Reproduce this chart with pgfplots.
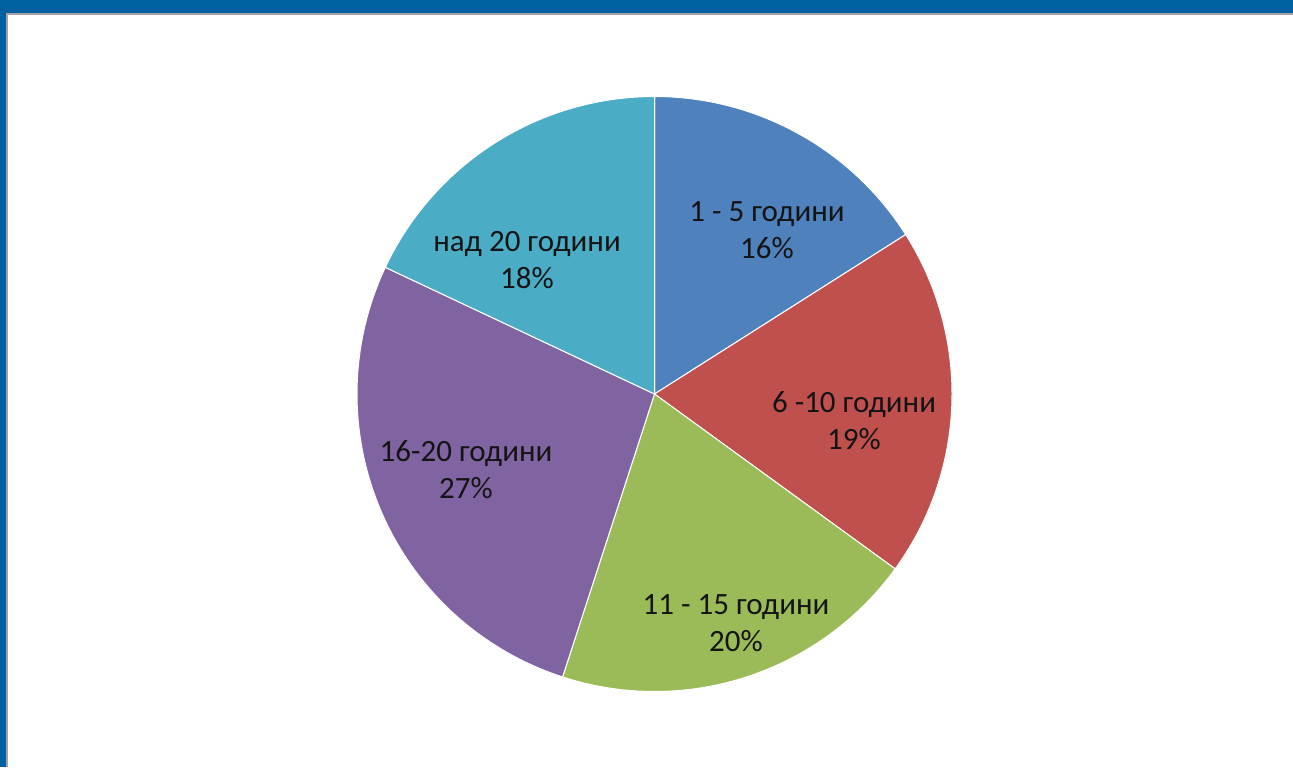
\documentclass[border=0pt]{standalone}
\usepackage{pgfplots}
\pgfplotsset{compat=1.18}
\usepackage{fontspec}
\setmainfont{Carlito}

\definecolor{frameblue}{HTML}{0060A0}
\definecolor{framegray}{HTML}{A3A3A3}
\definecolor{s1}{HTML}{4F81BD}
\definecolor{s2}{HTML}{C0504D}
\definecolor{s3}{HTML}{9BBB59}
\definecolor{s4}{HTML}{8064A2}
\definecolor{s5}{HTML}{4BACC6}

% centre and radius of the pie, in pixel units of the axis
\def\cx{654.5}
\def\cy{373}
\def\rr{297.5}

% #1 = share before this slice (%), #2 = share of slice (%), #3 = colour
\newcommand{\slice}[3]{%
  \addplot[fill=#3, draw=white, line width=0.5pt, samples=90, variable=\t,
    domain={90-3.6*(#1+#2)}:{90-3.6*#1}]
    ({\cx+\rr*cos(\t)},{\cy+\rr*sin(\t)}) -- (axis cs:\cx,\cy) -- cycle;
}

\begin{document}
\begin{tikzpicture}
\begin{axis}[
    width=646.5pt, height=383.5pt, scale only axis,
    xmin=0, xmax=1293, ymin=0, ymax=767,
    hide axis, clip=false,
  ]
  % window frame
  \fill[frameblue] (axis cs:0,0) rectangle (axis cs:1293,767);
  \fill[framegray] (axis cs:6,0) rectangle (axis cs:1293,754);
  \fill[white] (axis cs:8,0) rectangle (axis cs:1293,752);

  \slice{0}{16}{s1}
  \slice{16}{19}{s2}
  \slice{35}{20}{s3}
  \slice{55}{27}{s4}
  \slice{82}{18}{s5}

  \begin{scope}[every node/.style={align=center, text=black!92,
      font=\fontsize{15.5}{18.5}\selectfont}]
    \node at (axis cs:767,537) {1 - 5 години\\16\%};
    \node at (axis cs:854,346) {6 -10 години\\19\%};
    \node at (axis cs:736,144) {11 - 15 години\\20\%};
    \node at (axis cs:466,297) {16-20 години\\27\%};
    \node at (axis cs:527,507) {над 20 години\\18\%};
  \end{scope}
\end{axis}
\end{tikzpicture}
\end{document}
